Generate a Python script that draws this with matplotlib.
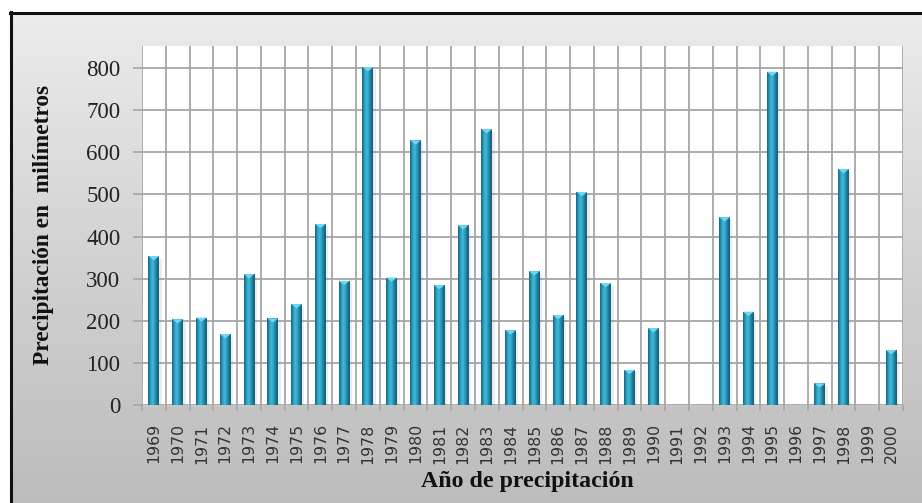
import matplotlib
matplotlib.use("Agg")
import matplotlib.pyplot as plt
import numpy as np
from matplotlib.colors import LinearSegmentedColormap
from matplotlib.patches import Rectangle, Polygon

# precipitacion anual (mm)
anios = [str(a) for a in range(1969, 2001)]
precipitacion = [354, 204, 208, 169, 311, 206, 240, 430, 295, 802,
                 303, 628, 285, 427, 655, 178, 318, 214, 506, 290,
                 84, 183, 0, 0, 446, 222, 791, 0, 52, 560, 0, 131]
yticks = [0, 100, 200, 300, 400, 500, 600, 700, 800]

W, H = 922, 503
fig = plt.figure(figsize=(W / 100, H / 100), dpi=100)
fig.patch.set_facecolor("white")

# fondo gris degradado con marco negro
bg = fig.add_axes([0, 0, 1, 1], zorder=-10)
bg.set_xlim(0, W)
bg.set_ylim(H, 0)
bg.axis("off")
grad = np.linspace(0, 1, 256).reshape(-1, 1)
gris = LinearSegmentedColormap.from_list("gris", ["#ececec", "#d2d2d2", "#bcbcbc"])
bg.imshow(grad, cmap=gris, extent=(10, W + 5, H + 5, 12), aspect="auto")
bg.plot([11, 11], [12, H + 5], color="#111111", lw=2.2)
bg.plot([10, W + 5], [12.5, 12.5], color="#111111", lw=2.2)

ax = fig.add_axes([142 / W, 1 - 405.3 / H, (903 - 142) / W, (405.3 - 46) / H])
ax.set_facecolor("white")
x = np.arange(len(anios))
ancho = 0.46
ymax = 852

barras = ax.bar(x, precipitacion, width=ancho, color="#2590b0", zorder=3, linewidth=0)

# sombreado cilindrico de cada columna
cil = LinearSegmentedColormap.from_list(
    "cil", ["#18647e", "#2998b8", "#40bbdb", "#2fa2c2", "#1f7896", "#165d76"])
perfil = np.linspace(0, 1, 64).reshape(1, -1)
cap_h = 10
for xi, v, b in zip(x, precipitacion, barras):
    if v <= 0:
        continue
    ax.add_patch(Rectangle((xi + ancho / 2, 0), 0.1, v - 6, color="#808080",
                           alpha=0.15, lw=0, zorder=2))
    im = ax.imshow(perfil, cmap=cil, aspect="auto", zorder=3,
                   extent=(xi - ancho / 2, xi + ancho / 2, 0, v))
    im.set_clip_path(b)
    ax.add_patch(Polygon([(xi - ancho / 2, v), (xi + ancho / 2, v), (xi, v - cap_h)],
                         closed=True, color="#72d6f0", lw=0, zorder=4))

ax.set_xlim(-0.5, len(anios) - 0.5)
ax.set_ylim(0, ymax)

# rejilla
for xb in np.arange(-0.5, len(anios), 1.0):
    ax.axvline(xb, color="#a6a6a6", lw=1.3, zorder=1)
for yt in yticks:
    ax.axhline(yt, color="#a6a6a6", lw=1.3, zorder=1)

for s in ax.spines.values():
    s.set_visible(False)

ax.set_yticks(yticks)
ax.set_yticklabels([str(t) for t in yticks], fontfamily="Liberation Serif",
                   fontsize=16.5, color="#222222")
ax.tick_params(axis="y", length=6.5, width=1.2, color="#a6a6a6", pad=9)

ax.set_xticks(np.arange(-0.5, len(anios), 1.0), minor=False)
ax.set_xticklabels([])
ax.tick_params(axis="x", length=4.5, width=1.2, color="#a6a6a6")
ax.set_xticks(x, minor=True)
ax.set_xticklabels(anios, minor=True, rotation=90, fontfamily="DejaVu Sans",
                   fontsize=11.3, color="#333333")
ax.tick_params(axis="x", which="minor", length=0, pad=13)

fig.text(44 / W, 1 - 225 / H, "Precipitación en  milímetros", rotation=90,
         ha="center", va="center", fontfamily="Liberation Serif",
         fontweight="bold", fontsize=16.8, color="#111111")
fig.text(527 / W, 1 - 482 / H, "Año de precipitación", ha="center", va="center",
         fontfamily="Liberation Serif", fontweight="bold", fontsize=17.2,
         color="#111111")

fig.savefig("out.png", dpi=100)
